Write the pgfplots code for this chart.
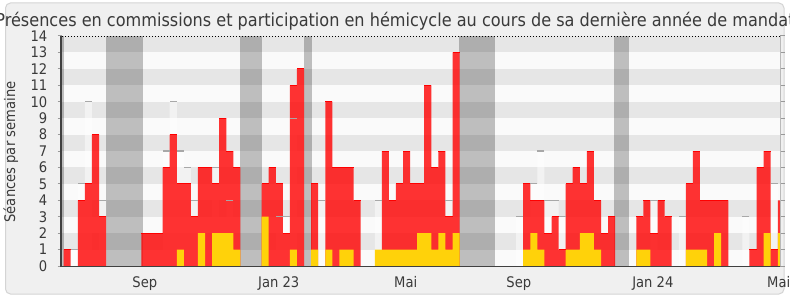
\documentclass[border=0pt]{standalone}
\usepackage{pgfplots}
\pgfplotsset{compat=1.18}
\usepackage{pgfplotstable}
\usepackage{fontspec}
\setmainfont{DejaVu Sans Condensed}
\definecolor{bgc}{HTML}{F0F0F0}
\definecolor{framec}{HTML}{D4D4D4}
\definecolor{stripeG}{HTML}{E6E6E6}
\definecolor{stripeW}{HTML}{FAFAFA}
\definecolor{barred}{HTML}{FF0000}
\definecolor{baryel}{HTML}{FFD20A}
\definecolor{lgline}{HTML}{A8A8A8}
\definecolor{axdark}{HTML}{404040}
\definecolor{txt}{HTML}{3A3A3A}

\pgfplotstableread{
k lg red yel
0 0 1 0
1 1 0 0
2 5 4 0
3 10 5 0
4 0 8 0
5 4 3 0
11 0 2 0
12 0 2 0
13 0 2 0
14 7 6 0
15 10 8 0
16 7 5 1
17 6 5 0
18 4 3 0
19 0 6 2
20 0 6 0
21 6 5 2
22 0 9 2
23 4 7 2
24 0 6 1
28 0 5 3
29 0 6 0
30 3 5 0
31 3 2 0
32 9 11 1
33 0 12 0
35 0 5 1
36 4 0 0
37 0 10 1
38 0 6 0
39 0 6 1
40 0 6 1
41 0 4 0
44 4 0 1
45 0 7 1
46 0 4 1
47 0 5 1
48 0 7 1
49 0 5 1
50 0 5 2
51 0 11 2
52 0 6 1
53 0 7 2
54 4 3 1
55 0 13 2
64 3 0 0
65 0 5 1
66 5 4 2
67 7 4 1
68 4 2 0
69 4 3 0
70 3 1 0
71 0 5 1
72 0 6 1
73 0 5 2
74 0 7 2
75 0 4 1
76 0 2 0
77 0 3 0
81 0 3 1
82 0 4 1
83 4 2 0
84 0 4 0
85 0 3 0
87 3 0 0
88 0 5 1
89 0 7 1
90 0 4 1
91 0 4 0
92 0 4 2
93 0 4 0
96 3 0 0
97 0 1 0
98 0 6 0
99 0 7 2
100 5 1 0
101 0 4 2
}\data

\begin{document}
\begin{tikzpicture}[x=1bp,y=1bp]
\useasboundingbox (0,0) rectangle (790,300);
\fill[white] (0,0) rectangle (790,300);
\filldraw[fill=bgc, draw=framec, line width=1bp, rounded corners=5bp] (5.5,6) rectangle (784,297);
\begin{axis}[
  at={(62bp,34bp)}, anchor=south west,
  scale only axis, width=718bp, height=230bp,
  xmin=-0.735, xmax=100.82, ymin=0, ymax=14,
  axis line style={draw=none},
  axis background/.style={fill=stripeW},
  ytick={0,1,...,14},
  xtick={10.98,29.93,47.88,63.88,82.83,100.64},
  xticklabels={Sep,Jan 23,Mai,Sep,Jan 24,Mai},
  tick align=outside,
  major tick length=4.5bp,
  ytick style={draw=gray!80, line width=1bp},
  xtick style={draw=none},
  /pgf/number format/assume math mode=true,
  yticklabel style={font=\fontsize{14.6bp}{16bp}\selectfont, text=txt, inner sep=0pt, anchor=east, xshift=-10bp},
  xticklabel style={font=\fontsize{14.6bp}{16bp}\selectfont, text=txt, inner sep=0pt, anchor=north, yshift=-6bp},
  clip=true,
]
% background stripes
\addplot[fill=stripeG, draw=none] coordinates {(-1,1) (102,1) (102,2) (-1,2)} -- cycle;
\addplot[fill=stripeG, draw=none] coordinates {(-1,3) (102,3) (102,4) (-1,4)} -- cycle;
\addplot[fill=stripeG, draw=none] coordinates {(-1,5) (102,5) (102,6) (-1,6)} -- cycle;
\addplot[fill=stripeG, draw=none] coordinates {(-1,7) (102,7) (102,8) (-1,8)} -- cycle;
\addplot[fill=stripeG, draw=none] coordinates {(-1,9) (102,9) (102,10) (-1,10)} -- cycle;
\addplot[fill=stripeG, draw=none] coordinates {(-1,11) (102,11) (102,12) (-1,12)} -- cycle;
\addplot[fill=stripeG, draw=none] coordinates {(-1,13) (102,13) (102,14) (-1,14)} -- cycle;
% vacation bands
\addplot[fill=black, fill opacity=0.24, draw=none] coordinates {(-1,0) (-1,14) (-0.52,14) (-0.52,0)} -- cycle;
\addplot[fill=black, fill opacity=0.24, draw=none] coordinates {(5.53,0) (5.53,14) (10.68,14) (10.68,0)} -- cycle;
\addplot[fill=black, fill opacity=0.24, draw=none] coordinates {(24.44,0) (24.44,14) (27.51,14) (27.51,0)} -- cycle;
\addplot[fill=black, fill opacity=0.24, draw=none] coordinates {(33.54,0) (33.54,14) (34.58,14) (34.58,0)} -- cycle;
\addplot[fill=black, fill opacity=0.24, draw=none] coordinates {(55.46,0) (55.46,14) (60.51,14) (60.51,0)} -- cycle;
\addplot[fill=black, fill opacity=0.24, draw=none] coordinates {(77.34,0) (77.34,14) (79.46,14) (79.46,0)} -- cycle;
% light bars
\addplot[ybar, bar width=1, bar shift=0pt, fill=white, fill opacity=0.5, draw=none] table[x=k, y=lg] {\data};
\addplot[only marks, mark=-, mark size=3.535bp, restrict y to domain=0.5:20, mark options={draw=lgline, line width=1.2bp}] table[x=k, y=lg] {\data};
% red bars
\addplot[ybar, bar width=1, bar shift=0pt, fill=barred, fill opacity=0.8, draw=none] table[x=k, y=red] {\data};
\addplot[only marks, mark=-, mark size=3.535bp, restrict y to domain=0.5:20, mark options={draw=barred, line width=1bp}] table[x=k, y=red] {\data};
% yellow bars
\addplot[ybar, bar width=1, bar shift=0pt, fill=baryel, draw=none] table[x=k, y=yel] {\data};
\end{axis}
% axis frame decorations
\draw[lgline!80, line width=1bp] (780,34) -- (780,264);
\draw[black, line width=1bp, dash pattern=on 1bp off 2bp] (62,264) -- (780,264);
\draw[axdark, line width=1.7bp] (61,33) -- (61,264);
\draw[axdark, line width=1.5bp] (60.2,33.5) -- (780,33.5);
% title and y label
\node[anchor=base, text=txt, font=\fontsize{17.9bp}{20bp}\selectfont, inner sep=0pt] at (395,274) {Présences en commissions et participation en hémicycle au cours de sa dernière année de mandat};
\node[anchor=base, rotate=90, text=txt, font=\fontsize{14.6bp}{16bp}\selectfont, inner sep=0pt] at (15,148) {Séances par semaine};
\end{tikzpicture}
\end{document}
